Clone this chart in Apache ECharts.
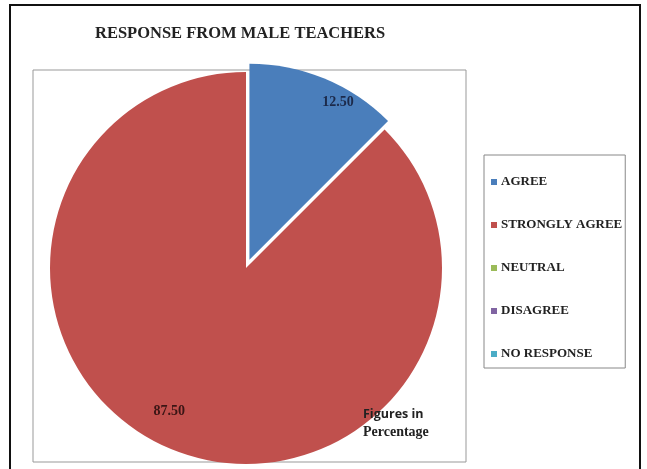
<!DOCTYPE html>
<html>
<head>
<meta charset="utf-8">
<script src="https://cdn.jsdelivr.net/npm/echarts@6/dist/echarts.min.js"></script>
<style>
  html, body { margin: 0; padding: 0; background: #fff; }
  #chart { width: 647px; height: 469px; }
</style>
</head>
<body>
<div id="chart"></div>
<script>
// categories and values (figures in percentage)
const categories = ['AGREE', 'STRONGLY AGREE', 'NEUTRAL', 'DISAGREE', 'NO RESPONSE']
const values = [12.5, 87.5, 0, 0, 0]
const palette = ['#4a7ebb', '#c0504d', '#9bbb59', '#8064a2', '#4bacc6']

// label nudges, [dx, dy] per slice
const labelShift = [[50, -64], [-38, 50], [0, 0], [0, 0], [0, 0]]
const labelColors = ['#1c2a4a', '#3a1515', '#222', '#222', '#222']

const serif = '"Liberation Serif", "DejaVu Serif", serif'

const myChart = echarts.init(document.getElementById('chart'))

myChart.setOption({
  animation: false,
  color: palette,
  title: [
    {
      text: 'RESPONSE FROM MALE TEACHERS',
      left: 90,
      top: 20,
      textStyle: { fontFamily: serif, fontWeight: 'bold', fontSize: 16.5, color: '#222' }
    },
    {
      text: '{a|Figures in}\n{b|Percentage}',
      left: 358,
      top: 400,
      textStyle: {
        rich: {
          a: { fontFamily: '"Open Sans", sans-serif', fontWeight: 'bold', fontSize: 12.5, color: '#222', lineHeight: 18 },
          b: { fontFamily: serif, fontWeight: 'bold', fontSize: 14, color: '#222', lineHeight: 18 }
        }
      }
    }
  ],
  legend: {
    orient: 'vertical',
    left: 484,
    top: 155,
    data: categories,
    icon: 'rect',
    itemWidth: 6,
    itemHeight: 6,
    itemGap: 29,
    padding: [20, 3, 7, 7],
    borderColor: '#888',
    borderWidth: 1,
    selectedMode: false,
    textStyle: { fontFamily: serif, fontWeight: 'bold', fontSize: 13, lineHeight: 14, color: '#222', padding: [0, 0, 0, -1] }
  },
  graphic: [
    // outer frame
    { type: 'rect', shape: { x: 10, y: 5, width: 630, height: 480 }, style: { fill: 'none', stroke: '#111', lineWidth: 2 }, silent: true, z: -1 },
    // plot area box
    { type: 'rect', shape: { x: 33, y: 70, width: 433, height: 392 }, style: { fill: 'none', stroke: '#999', lineWidth: 1 }, silent: true, z: -1 }
  ],
  series: [
    {
      type: 'pie',
      center: [246, 268],
      radius: 196,
      startAngle: 90,
      clockwise: true,
      selectedMode: 'single',
      selectedOffset: 9,
      emphasis: { disabled: true },
      label: {
        position: 'inside',
        fontFamily: serif,
        fontWeight: 'bold',
        fontSize: 14,
        formatter: p => (p.value > 0 ? p.value.toFixed(2) : '')
      },
      labelLine: { show: false },
      labelLayout: p => ({ dx: labelShift[p.dataIndex][0], dy: labelShift[p.dataIndex][1] }),
      data: categories.map((name, i) => ({
        name: name,
        value: values[i],
        selected: i === 0,
        label: { color: labelColors[i] }
      }))
    }
  ]
})
</script>
</body>
</html>
